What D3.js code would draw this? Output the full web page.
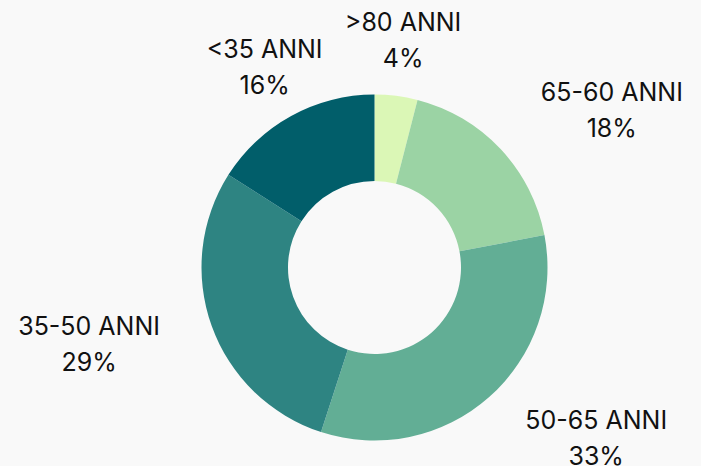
<!DOCTYPE html>
<html>
<meta charset="utf-8">
<style>
  body { margin: 0; background: #f9f9f9; }
  .label { font-family: Inter, "Noto Sans", sans-serif; font-size: 25px; fill: #111; }
</style>
<body>
  <script src="https://d3js.org/d3.v7.min.js"></script>
  <script>
    let width = 701,
      height = 466;

    // data, clockwise from 12 o'clock
    let categories = [">80 ANNI", "65-60 ANNI", "50-65 ANNI", "35-50 ANNI", "<35 ANNI"];
    let values = [4, 18, 33, 29, 16];
    let colors = ["#dbf7b6", "#9bd3a4", "#62ae95", "#2e8482", "#015e6a"];

    let cx = 374.5, cy = 267.5;
    let outerR = 173, innerR = 86.5, labelR = 228;

    let svg = d3.select("body").append("svg")
      .attr("width", width)
      .attr("height", height);

    let g = svg.append("g").attr("transform", `translate(${cx},${cy})`);

    let pie = d3.pie().sort(null).value(d => d.value);
    let arc = d3.arc().innerRadius(innerR).outerRadius(outerR);

    let data = categories.map((c, i) => ({ name: c, value: values[i], color: colors[i] }));
    let arcs = pie(data);

    g.selectAll(".slice")
      .data(arcs)
      .join("path")
      .attr("class", "slice")
      .attr("fill", d => d.data.color)
      .attr("d", arc);

    // labels: two lines, placed at labelR along mid angle
    let labels = g.selectAll(".lbl")
      .data(arcs)
      .join("g")
      .attr("class", "lbl");

    labels.each(function (d) {
      let a = (d.startAngle + d.endAngle) / 2;
      let px = Math.sin(a) * labelR;
      let py = -Math.cos(a) * labelR;
      let grp = d3.select(this);
      let t1 = grp.append("text").attr("class", "label").attr("text-anchor", "middle")
        .attr("y", -2).text(d.data.name);
      let t2 = grp.append("text").attr("class", "label").attr("text-anchor", "middle")
        .attr("y", 34).text(d.data.value + "%");
      let w = Math.max(t1.node().getComputedTextLength(), t2.node().getComputedTextLength());
      let s = Math.sin(a);
      let dx = 0;
      if (s > 0.6) dx = w / 2;
      else if (s < -0.6) dx = -w / 2;
      grp.attr("transform", `translate(${px + dx},${py - 8})`);
    });
  </script>
</body>
</html>
